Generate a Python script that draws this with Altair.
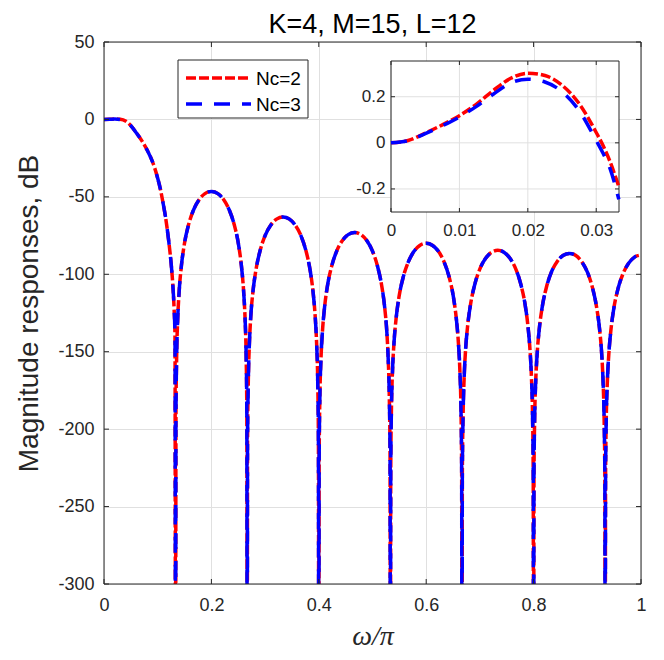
import altair as alt
import pandas as pd

# ---------------- data ----------------
series_names = ["Nc=2", "Nc=3"]
series_colors = ["#FF0000", "#0000FF"]

main_x = [
    0, 0.01, 0.02, 0.03, 0.04, 0.05, 0.06, 0.07, 0.08, 0.09, 0.1, 0.105, 0.11, 0.115, 0.12, 0.125, 0.128, 0.1305, 0.1322, 0.1333,
    0.1340, 0.1353, 0.1373, 0.1400, 0.1440, 0.1493, 0.1573, 0.1667, 0.1773, 0.1880, 0.2000, 0.2120, 0.2227, 0.2333, 0.2427, 0.2507, 0.2560, 0.2600, 0.2627, 0.2647, 0.2660, 0.2667,
    0.2673, 0.2687, 0.2707, 0.2733, 0.2773, 0.2827, 0.2907, 0.3000, 0.3107, 0.3213, 0.3333, 0.3453, 0.3560, 0.3667, 0.3760, 0.3840, 0.3893, 0.3933, 0.3960, 0.3980, 0.3993, 0.4000,
    0.4007, 0.4020, 0.4040, 0.4067, 0.4107, 0.4160, 0.4240, 0.4333, 0.4440, 0.4547, 0.4667, 0.4787, 0.4893, 0.5000, 0.5093, 0.5173, 0.5227, 0.5267, 0.5293, 0.5313, 0.5327, 0.5333,
    0.5340, 0.5353, 0.5373, 0.5400, 0.5440, 0.5493, 0.5573, 0.5667, 0.5773, 0.5880, 0.6000, 0.6120, 0.6227, 0.6333, 0.6427, 0.6507, 0.6560, 0.6600, 0.6627, 0.6647, 0.6660, 0.6667,
    0.6673, 0.6687, 0.6707, 0.6733, 0.6773, 0.6827, 0.6907, 0.7000, 0.7107, 0.7213, 0.7333, 0.7453, 0.7560, 0.7667, 0.7760, 0.7840, 0.7893, 0.7933, 0.7960, 0.7980, 0.7993, 0.8000,
    0.8007, 0.8020, 0.8040, 0.8067, 0.8107, 0.8160, 0.8240, 0.8333, 0.8440, 0.8547, 0.8667, 0.8787, 0.8893, 0.9000, 0.9093, 0.9173, 0.9227, 0.9267, 0.9293, 0.9313, 0.9327, 0.9333,
    0.9340, 0.9353, 0.9373, 0.9400, 0.9440, 0.9493, 0.9573, 0.9667, 0.9773, 0.9880, 1.0,
]

main_nc2 = [
    0, 0.1, 0.3, 0.05, -1.0, -4.0, -8.5, -13.5, -19.5, -27, -38, -45, -54, -64, -77, -93, -106, -122, -140, -400,
    -190.8, -152.7, -128.6, -110.9, -94.9, -81.2, -68.2, -58.5, -51.7, -47.9, -46.5, -47.9, -51.7, -58.5, -68.2, -81.2, -94.9, -110.9, -128.6, -152.7, -190.8, -400,
    -207.3, -169.2, -145.1, -127.4, -111.4, -97.7, -84.7, -75.0, -68.2, -64.4, -63.0, -64.4, -68.2, -75.0, -84.7, -97.7, -111.4, -127.4, -145.1, -169.2, -207.3, -400,
    -217.3, -179.2, -155.1, -137.4, -121.4, -107.7, -94.7, -85.0, -78.2, -74.4, -73.0, -74.4, -78.2, -85.0, -94.7, -107.7, -121.4, -137.4, -155.1, -179.2, -217.3, -400,
    -224.3, -186.2, -162.1, -144.4, -128.4, -114.7, -101.7, -92.0, -85.2, -81.4, -80.0, -81.4, -85.2, -92.0, -101.7, -114.7, -128.4, -144.4, -162.1, -186.2, -224.3, -400,
    -228.8, -190.7, -166.6, -148.9, -132.9, -119.2, -106.2, -96.5, -89.7, -85.9, -84.5, -85.9, -89.7, -96.5, -106.2, -119.2, -132.9, -148.9, -166.6, -190.7, -228.8, -400,
    -230.8, -192.7, -168.6, -150.9, -134.9, -121.2, -108.2, -98.5, -91.7, -87.9, -86.5, -87.9, -91.7, -98.5, -108.2, -121.2, -134.9, -150.9, -168.6, -192.7, -230.8, -400,
    -231.8, -193.7, -169.6, -151.9, -135.9, -122.2, -109.2, -99.5, -92.7, -88.9, -87.5,
]

main_nc3 = [
    0, 0.1, 0.28, 0.0, -1.1, -4.1, -8.6, -13.6, -19.6, -27.1, -38, -45, -54, -64, -77, -93, -106, -122, -140, -400,
    -190.8, -152.7, -128.6, -110.9, -94.9, -81.2, -68.2, -58.5, -51.7, -47.9, -46.5, -47.9, -51.7, -58.5, -68.2, -81.2, -94.9, -110.9, -128.6, -152.7, -190.8, -400,
    -207.3, -169.2, -145.1, -127.4, -111.4, -97.7, -84.7, -75.0, -68.2, -64.4, -63.0, -64.4, -68.2, -75.0, -84.7, -97.7, -111.4, -127.4, -145.1, -169.2, -207.3, -400,
    -217.3, -179.2, -155.1, -137.4, -121.4, -107.7, -94.7, -85.0, -78.2, -74.4, -73.0, -74.4, -78.2, -85.0, -94.7, -107.7, -121.4, -137.4, -155.1, -179.2, -217.3, -400,
    -224.3, -186.2, -162.1, -144.4, -128.4, -114.7, -101.7, -92.0, -85.2, -81.4, -80.0, -81.4, -85.2, -92.0, -101.7, -114.7, -128.4, -144.4, -162.1, -186.2, -224.3, -400,
    -228.8, -190.7, -166.6, -148.9, -132.9, -119.2, -106.2, -96.5, -89.7, -85.9, -84.5, -85.9, -89.7, -96.5, -106.2, -119.2, -132.9, -148.9, -166.6, -190.7, -228.8, -400,
    -230.8, -192.7, -168.6, -150.9, -134.9, -121.2, -108.2, -98.5, -91.7, -87.9, -86.5, -87.9, -91.7, -98.5, -108.2, -121.2, -134.9, -150.9, -168.6, -192.7, -230.8, -400,
    -231.8, -193.7, -169.6, -151.9, -135.9, -122.2, -109.2, -99.5, -92.7, -88.9, -87.5,
]

inset_x = [0, 0.0025, 0.005, 0.0075, 0.01, 0.0125, 0.015, 0.0175, 0.02, 0.0225, 0.025, 0.0275, 0.03, 0.031, 0.032, 0.0333]
inset_nc2 = [0, 0.010, 0.042, 0.078, 0.118, 0.168, 0.228, 0.280, 0.302, 0.292, 0.250, 0.170, 0.045, -0.012, -0.080, -0.190]
inset_nc3 = [0, 0.009, 0.040, 0.074, 0.112, 0.158, 0.212, 0.260, 0.276, 0.264, 0.222, 0.140, 0.010, -0.045, -0.110, -0.245]

x_ticks = [0, 0.2, 0.4, 0.6, 0.8, 1]
y_ticks = [50, 0, -50, -100, -150, -200, -250, -300]
inset_x_ticks = [0, 0.01, 0.02, 0.03]
inset_y_ticks = [-0.2, 0, 0.2]

title_text = "K=4, M=15, L=12"
x_title = "ω/π"
y_title = "Magnitude responses, dB"

# ---------------- styling / layout ----------------
W, H = 537, 542
FONT = "Liberation Sans"
INK = "#262626"
GRID = "#e0e0e0"
LW = 3.5
DASHES = [[10, 3], [16, 12]]
IX0, IX1, IY0, IY1 = 287, 515, 19, 170   # inset box inside the plot area (pixels)
TK = 5


def mx():
    return alt.Scale(domain=[0, 1], nice=False, zero=False)


def my():
    return alt.Scale(domain=[-300, 50], nice=False, zero=False)


def ix():
    return alt.Scale(domain=[0, 0.03333], range=[IX0, IX1], nice=False, zero=False)


def iy():
    return alt.Scale(domain=[-0.3, 0.355], range=[IY1, IY0], nice=False, zero=False)


one = pd.DataFrame({"a": [0]})
df_m = [pd.DataFrame({"x": main_x, "db": v}) for v in (main_nc2, main_nc3)]
df_i = [pd.DataFrame({"x": inset_x, "db": v}) for v in (inset_nc2, inset_nc3)]
df_xt = pd.DataFrame({"v": x_ticks})
df_yt = pd.DataFrame({"v": y_ticks})
df_ixt = pd.DataFrame({"v": inset_x_ticks})
df_iyt = pd.DataFrame({"v": inset_y_ticks})

x_axis = alt.Axis(
    orient="bottom", values=x_ticks, labelExpr="'' + datum.value", title=x_title,
    ticks=False, domain=False, grid=True, gridColor=GRID, labelFont=FONT, labelFontSize=18,
    labelColor=INK, labelPadding=12, labelFlush=False,
    titleFont="Liberation Serif", titleFontStyle="italic", titleFontSize=28,
    titleFontWeight="normal", titleColor=INK, titlePadding=8,
)
y_axis = alt.Axis(
    orient="left", values=y_ticks, labelExpr="'' + datum.value", title=y_title,
    ticks=False, domain=False, grid=True, gridColor=GRID, labelFont=FONT, labelFontSize=18,
    labelColor=INK, labelPadding=10, labelFlush=False,
    titleFont=FONT, titleFontSize=28, titleFontWeight="normal", titleColor=INK, titlePadding=14,
)

layers = []
for k in range(2):
    layers.append(
        alt.Chart(df_m[k]).mark_line(
            color=series_colors[k], strokeWidth=LW, strokeDash=DASHES[k], clip=True, interpolate="monotone"
        ).encode(
            x=alt.X("x:Q", scale=mx(), axis=x_axis if k == 0 else None),
            y=alt.Y("db:Q", scale=my(), axis=y_axis if k == 0 else None),
        )
    )

# plot box
layers.append(
    alt.Chart(one).mark_rect(fillOpacity=0, stroke=INK, strokeWidth=1).encode(
        x=alt.value(0), x2=alt.value(W), y=alt.value(0), y2=alt.value(H)
    )
)
# inward tick marks on all four sides
for y0, y1 in ((H, H - TK), (0, TK)):
    layers.append(
        alt.Chart(df_xt).mark_rule(color=INK, strokeWidth=1).encode(
            x=alt.X("v:Q", scale=mx(), axis=None), y=alt.value(y0), y2=alt.value(y1)
        )
    )
for x0, x1 in ((0, TK), (W - TK, W)):
    layers.append(
        alt.Chart(df_yt).mark_rule(color=INK, strokeWidth=1).encode(
            y=alt.Y("v:Q", scale=my(), axis=None), x=alt.value(x0), x2=alt.value(x1)
        )
    )

# legend (box, line samples, labels)
LG_X0, LG_X1, LG_Y0, LG_Y1 = 74, 204, 18, 76
layers.append(
    alt.Chart(one).mark_rect(fill="white", stroke=INK, strokeWidth=1).encode(
        x=alt.value(LG_X0), x2=alt.value(LG_X1), y=alt.value(LG_Y0), y2=alt.value(LG_Y1)
    )
)
for k, ly in enumerate((36, 62)):
    layers.append(
        alt.Chart(one).mark_rule(color=series_colors[k], strokeWidth=LW, strokeDash=DASHES[k]).encode(
            x=alt.value(82), x2=alt.value(147), y=alt.value(ly)
        )
    )
    layers.append(
        alt.Chart(one).mark_text(align="left", baseline="middle", font=FONT, fontSize=19, color="#000000").encode(
            x=alt.value(152), y=alt.value(ly + 1), text=alt.value(series_names[k])
        )
    )

# ---------------- inset ----------------
ix_axis = alt.Axis(
    orient="bottom", offset=-(H - IY1), values=inset_x_ticks, labelExpr="'' + datum.value",
    title=None, ticks=False, domain=False, grid=False, labelFont=FONT, labelFontSize=17,
    labelColor=INK, labelPadding=10, labelFlush=False, zindex=1,
)
iy_axis = alt.Axis(
    orient="left", offset=-IX0, values=inset_y_ticks, labelExpr="'' + datum.value",
    title=None, ticks=False, domain=False, grid=False, labelFont=FONT, labelFontSize=17,
    labelColor=INK, labelPadding=6, labelFlush=False, zindex=1,
)

layers += [
    alt.Chart(one).mark_rect(fill="white", strokeWidth=0).encode(
        x=alt.value(IX0), x2=alt.value(IX1), y=alt.value(IY0), y2=alt.value(IY1)
    ),
    alt.Chart(df_ixt).mark_rule(color=GRID, strokeWidth=1).encode(
        x=alt.X("v:Q", scale=ix(), axis=None), y=alt.value(IY0), y2=alt.value(IY1)
    ),
    alt.Chart(df_iyt).mark_rule(color=GRID, strokeWidth=1).encode(
        y=alt.Y("v:Q", scale=iy(), axis=None), x=alt.value(IX0), x2=alt.value(IX1)
    ),
    alt.Chart(one).mark_rect(fillOpacity=0, stroke=INK, strokeWidth=1).encode(
        x=alt.value(IX0), x2=alt.value(IX1), y=alt.value(IY0), y2=alt.value(IY1)
    ),
]
for y0, y1 in ((IY1, IY1 - 4), (IY0, IY0 + 4)):
    layers.append(
        alt.Chart(df_ixt).mark_rule(color=INK, strokeWidth=1).encode(
            x=alt.X("v:Q", scale=ix(), axis=None), y=alt.value(y0), y2=alt.value(y1)
        )
    )
for x0, x1 in ((IX0, IX0 + 4), (IX1 - 4, IX1)):
    layers.append(
        alt.Chart(df_iyt).mark_rule(color=INK, strokeWidth=1).encode(
            y=alt.Y("v:Q", scale=iy(), axis=None), x=alt.value(x0), x2=alt.value(x1)
        )
    )
for k in range(2):
    layers.append(
        alt.Chart(df_i[k]).mark_line(
            color=series_colors[k], strokeWidth=LW, strokeDash=DASHES[k], interpolate="monotone"
        ).encode(
            x=alt.X("x:Q", scale=ix(), axis=ix_axis if k == 0 else None),
            y=alt.Y("db:Q", scale=iy(), axis=iy_axis if k == 0 else None),
        )
    )

chart = (
    alt.layer(*layers)
    .resolve_scale(x="independent", y="independent")
    .properties(
        width=W,
        height=H,
        title=alt.TitleParams(
            title_text, font=FONT, fontSize=27, fontWeight="normal", color="#000000",
            anchor="middle", offset=0, dy=6,
        ),
        autosize=alt.AutoSizeParams(type="none"),
        padding={"left": 96, "top": 34, "right": 15, "bottom": 76},
        background="white",
    )
    .configure_view(strokeWidth=0)
)

chart.save("out.html", embed_options={"renderer": "svg", "actions": False})
